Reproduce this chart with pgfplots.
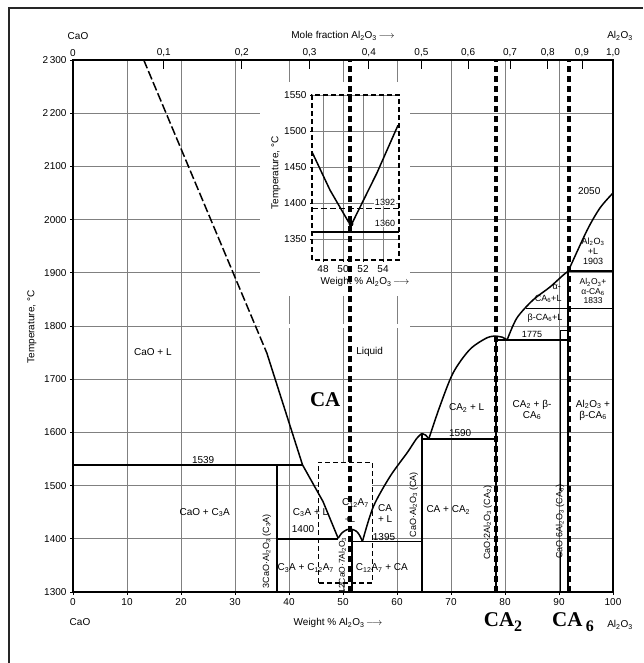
\documentclass[border=0pt]{standalone}
\usepackage{pgfplots}
\pgfplotsset{compat=1.18}
\usepackage{fontspec}
\setmainfont{Liberation Sans}
\newfontfamily\tnr{Liberation Serif}
\newcommand{\s}[1]{\textsubscript{#1}}
\newcommand{\lab}{\fontsize{10}{11}\selectfont}
\newcommand{\slab}{\fontsize{9}{10}\selectfont}
\newcommand{\rlab}{\fontsize{8.5}{9.5}\selectfont}
\newcommand{\arr}{\,$\longrightarrow$}
\begin{document}
\begin{tikzpicture}[x=1pt,y=1pt]
\useasboundingbox (0,0) rectangle (643,663);
\draw[line width=1.5pt,black!85] (9,0) -- (9,655) -- (643,655);

% ---------------- main axis ----------------
\begin{axis}[at={(73pt,71pt)},anchor=south west, scale only axis, width=540pt, height=532pt,
 xmin=0,xmax=100,ymin=1300,ymax=2300,
 xtick={0,10,...,100}, ytick={1300,1400,...,2300},
 xticklabels={0,10,20,30,40,50,60,70,80,90,100},
 yticklabels={1300,1400,1500,1600,1700,1800,1900,2000,2100,2\,200,2\,300},
 grid=major, grid style={black!50,line width=0.8pt},
 axis line style={line width=1.2pt},
 tick style={black,line width=0.7pt}, tick align=outside, major tick length=3pt,
 xtick pos=bottom, ytick pos=left,
 tick label style={font=\lab},
 clip=false]
% masks over the grid
\fill[white] (axis cs:34.6,1856) rectangle (axis cs:62.4,2258);
\fill[white] (axis cs:34.6,1796) rectangle (axis cs:62.4,1804);
\fill[white] (axis cs:45.4,1317) rectangle (axis cs:55.4,1544);
% liquidus CaO side
\addplot[line width=1.5pt, dash pattern=on 9pt off 3pt] coordinates {(13.1,2300) (35.9,1749)};
\addplot[line width=1.5pt] coordinates {(35.9,1749) (42.5,1539) (46.3,1470) (49.1,1401)};
% C12A7 dome
\addplot[line width=1.5pt, smooth] coordinates {(49.1,1401) (49.8,1411) (50.7,1417) (51.6,1418) (52.5,1414) (53.1,1406) (53.6,1395)};
% CA liquidus
\addplot[line width=1.5pt, smooth] coordinates {(53.6,1395) (55.6,1460) (58.7,1517) (61.9,1562) (63.6,1588) (64.6,1598)};
\addplot[line width=1.5pt] coordinates {(64.6,1598) (65.3,1595) (65.9,1588)};
% CA2 liquidus
\addplot[line width=1.5pt, smooth] coordinates {(65.9,1588) (67.9,1648) (70.4,1712) (73.5,1756) (76.7,1778) (78.4,1781)};
\addplot[line width=1.5pt] coordinates {(78.4,1781) (79.5,1779) (80.4,1774)};
% CA6 liquidus
\addplot[line width=1.5pt, smooth] coordinates {(80.4,1774) (82.2,1815) (85.2,1849) (88.3,1873) (90.7,1895) (91.7,1903)};
% Al2O3 liquidus
\addplot[line width=1.5pt, smooth] coordinates {(91.7,1903) (95.2,1980) (97.6,2022) (100,2050)};
% invariant lines
\addplot[line width=1.7pt] coordinates {(0,1539) (42.5,1539)};
\addplot[line width=1.7pt] coordinates {(37.7,1400) (49.1,1400)};
\addplot[line width=1.7pt] coordinates {(51.6,1395) (64.6,1395)};
\addplot[line width=1.7pt] coordinates {(64.6,1588) (78.4,1588)};
\addplot[line width=1.7pt] coordinates {(78.4,1774) (91.7,1774)};
\addplot[line width=1.7pt] coordinates {(83.8,1833) (100,1833)};
\addplot[line width=1.7pt] coordinates {(91.7,1903) (100,1903)};
% compounds
\addplot[line width=2pt] coordinates {(37.7,1300) (37.7,1539)};
\addplot[line width=2pt] coordinates {(51.6,1300) (51.6,1418)};
\addplot[line width=2pt] coordinates {(64.6,1300) (64.6,1598)};
\addplot[line width=2pt] coordinates {(78.4,1300) (78.4,1781)};
\addplot[line width=2pt] coordinates {(91.7,1300) (91.7,1903)};
% CA6 leader
\addplot[line width=0.8pt] coordinates {(90.2,1300) (90.2,1376)};
\addplot[line width=0.8pt] coordinates {(90.2,1490) (90.2,1792) (91.7,1792)};
% dashed zoom box
\addplot[line width=1.1pt, dash pattern=on 5pt off 3pt] coordinates {(45.4,1317) (45.4,1544) (55.4,1544) (55.4,1317) (45.4,1317)};
% labels
\node[font=\lab] at (axis cs:14.8,1751) {CaO + L};
\node[font=\lab,anchor=west] at (axis cs:51.8,1751) {Liquid};
\node[font=\lab] at (axis cs:24.1,1548) {1539};
\node[font=\lab] at (axis cs:24.4,1449) {CaO + C\s{3}A};
\node[font=\lab] at (axis cs:44.0,1449) {C\s{3}A + L};
\node[font=\lab] at (axis cs:42.6,1418) {1400};
\node[font=\lab] at (axis cs:43.1,1345) {C\s{3}A + C\s{12}A\s{7}};
\node[font=\lab] at (axis cs:52.3,1467) {C\s{12}A\s{7}};
\node[font=\slab] at (axis cs:51.3,1436) {+L};
\node[font=\lab,align=center] at (axis cs:57.8,1447) {CA\\+ L};
\node[font=\lab] at (axis cs:57.6,1404) {1395};
\node[font=\lab] at (axis cs:57.2,1345) {C\s{12}A\s{7} + CA};
\node[font=\lab] at (axis cs:69.5,1454) {CA + CA\s{2}};
\node[font=\lab] at (axis cs:72.9,1646) {CA\s{2} + L};
\node[font=\lab] at (axis cs:71.7,1598) {1590};
\node[font=\lab,align=center] at (axis cs:85.0,1642) {CA\s{2} + β-\\CA\s{6}};
\node[font=\lab,align=center] at (axis cs:96.3,1642) {Al\s{2}O\s{3} +\\β-CA\s{6}};
\node[font=\slab] at (axis cs:85.0,1784) {1775};
\node[font=\slab] at (axis cs:87.4,1815) {β-CA\s{6}+L};
\node[font=\slab] at (axis cs:89.6,1873) {α-};
\node[font=\slab] at (axis cs:88.0,1851) {CA\s{6}+L};
\node[font=\rlab,align=center] at (axis cs:96.3,1865) {Al\s{2}O\s{3}+\\α-CA\s{6}\\1833};
\node[font=\slab,align=center] at (axis cs:96.3,1940) {Al\s{2}O\s{3}\\+L\\1903};
\node[font=\lab] at (axis cs:95.6,2053) {2050};
\node[font=\slab,rotate=90] at (axis cs:35.9,1377) {3CaO·Al\s{2}O\s{3} (C\s{3}A)};
\node[font=\rlab,rotate=90] at (axis cs:49.9,1350) {12CaO·7Al\s{2}O\s{3}};
\node[font=\slab,rotate=90] at (axis cs:63.1,1464) {CaO·Al\s{2}O\s{3} (CA)};
\node[font=\slab,rotate=90] at (axis cs:76.8,1430) {CaO·2Al\s{2}O\s{3} (CA\s{2})};
\node[font=\slab,rotate=90] at (axis cs:90.2,1432) {CaO·6Al\s{2}O\s{3} (CA\s{6})};
\end{axis}

% ---------------- inset ----------------
\begin{axis}[at={(312pt,403pt)},anchor=south west, scale only axis, width=87pt, height=165pt,
 xmin=46.9,xmax=55.6,ymin=1321,ymax=1550,
 xtick={48,50,52,54}, ytick={1350,1400,1450,1500,1550},
 xticklabels={48,50,52,54}, yticklabels={1350,1400,1450,1500,1550},
 grid=major, grid style={black!50,line width=0.8pt},
 axis line style={line width=1.2pt, dash pattern=on 5pt off 3pt},
 axis background/.style={fill=white},
 tick style={black,line width=0.7pt}, tick align=outside, major tick length=2pt,
 xtick pos=bottom, ytick pos=left,
 tick label style={font=\lab},
 clip=false]
\addplot[line width=1.5pt] coordinates {(46.9,1471) (48.7,1418) (50.5,1375) (50.8,1369)};
\addplot[line width=1.5pt] coordinates {(50.8,1369) (53.4,1442) (55.5,1508)};
\addplot[line width=1.3pt, dash pattern=on 6pt off 3pt] coordinates {(46.9,1392) (55.6,1392)};
\addplot[line width=1.5pt] coordinates {(46.9,1360) (55.6,1360)};
\addplot[only marks, mark=*, mark size=2.2pt] coordinates {(50.8,1371)};
\node[font=\slab,fill=white,inner sep=0.5pt] at (axis cs:54.2,1401) {1392};
\node[font=\slab,fill=white,inner sep=0.5pt] at (axis cs:54.2,1372) {1360};
\end{axis}
\node[font=\lab,rotate=90] at (276,490) {Temperature, °C};
\node[font=\lab] at (365,381) {Weight \% Al\s{2}O\s{3}\arr};

% ---------------- overlay: top mole-fraction axis and compound markers ----------------
\begin{axis}[at={(73pt,71pt)},anchor=south west, scale only axis, width=540pt, height=532pt,
 xmin=0,xmax=100,ymin=1300,ymax=2300,
 hide y axis, axis x line*=top, x axis line style={-,line width=1.2pt},
 xtick={0,16.81,31.25,43.79,54.79,64.52,73.17,80.92,87.91,94.24,100},
 xticklabels={0,{0,1},{0,2},{0,3},{0,4},{0,5},{0,6},{0,7},{0,8},{0,9},{1,0}},
 tick align=inside, major tick length=9pt, tick style={black,line width=0.8pt},
 tick label style={font=\lab},
 clip=false]
\addplot[line width=3.6pt, dash pattern=on 6pt off 4pt] coordinates {(51.3,1300) (51.3,2300)};
\addplot[line width=3.6pt, dash pattern=on 6pt off 4pt] coordinates {(78.3,1300) (78.3,2300)};
\addplot[line width=3.6pt, dash pattern=on 6pt off 4pt] coordinates {(91.9,1300) (91.9,2300)};
\node[font=\tnr\bfseries\fontsize{21}{21}\selectfont] at (axis cs:46.7,1661) {CA};
\end{axis}

% ---------------- free texts ----------------
\node[font=\lab,rotate=90] at (32,336) {Temperature, °C};
\node[font=\lab] at (78,627) {CaO};
\node[font=\lab] at (343,627) {Mole fraction Al\s{2}O\s{3}\arr};
\node[font=\lab] at (620,627) {Al\s{2}O\s{3}};
\node[font=\lab] at (80,41) {CaO};
\node[font=\lab] at (338,40) {Weight \% Al\s{2}O\s{3}\arr};
\node[font=\lab] at (620,38) {Al\s{2}O\s{3}};
\node[font=\tnr\bfseries\fontsize{21}{21}\selectfont] at (503,41) {CA\raisebox{-5pt}{\fontsize{16}{16}\selectfont 2}};
\node[font=\tnr\bfseries\fontsize{21}{21}\selectfont] at (573,41) {CA\,\raisebox{-5pt}{\fontsize{16}{16}\selectfont 6}};
\end{tikzpicture}
\end{document}
